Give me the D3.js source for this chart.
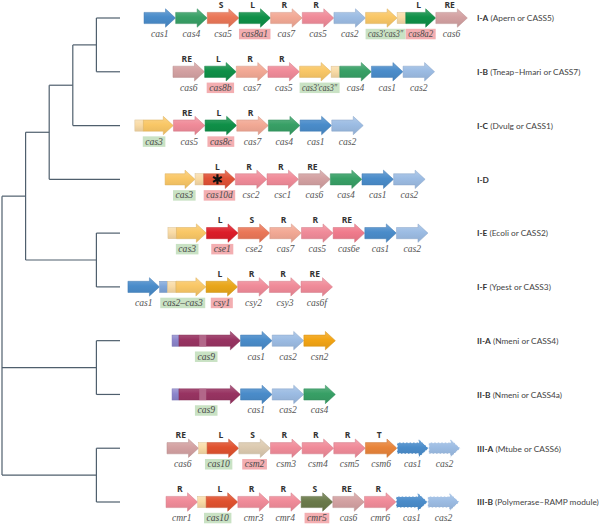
<!DOCTYPE html>
<html><head><meta charset="utf-8">
<script src="https://cdn.jsdelivr.net/npm/d3@7"></script>
<style>html,body{margin:0;padding:0;background:#fff}</style>
</head><body>
<svg id="c" width="600" height="524"></svg>
<script>
// ---------- data ----------
const rowIds = ['I-A','I-B','I-C','I-D','I-E','I-F','II-A','II-B','III-A','III-B'];
const rowNotes = ['(Apern or CASS5)','(Tneap–Hmari or CASS7)','(Dvulg or CASS1)','','(Ecoli or CASS2)','(Ypest or CASS3)','(Nmeni or CASS4)','(Nmeni or CASS4a)','(Mtube or CASS6)','(Polymerase–RAMP module)'];
// gene-unit offset where each operon starts
const rowOffsets = [0, 0.92, -0.29, 0.67, 0.76, -0.51, 0.89, 0.89, 0.73, 0.70];

const genesIA = [
  {n:'cas1',k:'cas1'},{n:'cas4',k:'cas4'},{n:'csa5',k:'csa5',top:'S'},
  {n:'cas8a1',k:'cas8',top:'L',hl:'r'},{n:'cas7',k:'cas7',top:'R'},{n:'cas5',k:'cas5',top:'R'},
  {n:'cas2',k:'cas2'},{n:'cas3′cas3″',k:'cas3',hl:'g',post:['box']},
  {n:'cas8a2',k:'cas8',top:'L',hl:'r',w:0.95},{n:'cas6',k:'cas6',top:'RE'}];
const genesIB = [
  {n:'cas6',k:'cas6',top:'RE'},{n:'cas8b',k:'cas8',top:'L',hl:'r'},{n:'cas7',k:'cas7',top:'R'},
  {n:'cas5',k:'cas5',top:'R'},{n:'cas3′cas3″',k:'cas3',hl:'g',post:['box']},
  {n:'cas4',k:'cas4'},{n:'cas1',k:'cas1'},{n:'cas2',k:'cas2'}];
const genesIC = [
  {n:'cas3',k:'cas3',hl:'g',pre:['box'],w:0.95},{n:'cas5',k:'cas5',top:'RE'},
  {n:'cas8c',k:'cas8',top:'L',hl:'r'},{n:'cas7',k:'cas7',top:'R'},
  {n:'cas4',k:'cas4'},{n:'cas1',k:'cas1'},{n:'cas2',k:'cas2'}];
const genesID = [
  {n:'cas3',k:'cas3',hl:'g',post:['box'],w:0.95},{n:'cas10d',k:'cas10d',top:'L',hl:'r',star:true},
  {n:'csc2',k:'cas5',top:'R'},{n:'csc1',k:'cas5',top:'R'},{n:'cas6',k:'cas6',top:'RE'},
  {n:'cas4',k:'cas4'},{n:'cas1',k:'cas1'},{n:'cas2',k:'cas2'}];
const genesIE = [
  {n:'cas3',k:'cas3',hl:'g',pre:['box'],w:0.95},{n:'cse1',k:'cse1',top:'L',hl:'r'},
  {n:'cse2',k:'csa5',top:'S'},{n:'cas7',k:'cas7',top:'R'},{n:'cas5',k:'cas5',top:'R'},
  {n:'cas6e',k:'cas6e',top:'RE'},{n:'cas1',k:'cas1'},{n:'cas2',k:'cas2'}];
const genesIF = [
  {n:'cas1',k:'cas1'},{n:'cas2–cas3',k:'cas3',hl:'g',pre:['cas2s','box'],w:0.95},
  {n:'csy1',k:'csy1',top:'L',hl:'r'},{n:'csy2',k:'cas5',top:'R'},{n:'csy3',k:'cas5',top:'R'},
  {n:'cas6f',k:'cas5',top:'RE'}];
const genesIIA = [
  {n:'cas9',k:'cas9',hl:'g',pre:['cas9a'],w:1.95,band:true},{n:'cas1',k:'cas1'},
  {n:'cas2',k:'cas2'},{n:'csn2',k:'csn2'}];
const genesIIB = [
  {n:'cas9',k:'cas9',hl:'g',pre:['cas9a'],w:1.95,band:true},{n:'cas1',k:'cas1'},
  {n:'cas2',k:'cas2'},{n:'cas4',k:'cas4'}];
const genesIIIA = [
  {n:'cas6',k:'cas6',top:'RE'},{n:'cas10',k:'cas10',top:'L',hl:'g',pre:['box']},
  {n:'csm2',k:'csm2',top:'S',hl:'r'},{n:'csm3',k:'cas5',top:'R'},{n:'csm4',k:'cas5',top:'R'},
  {n:'csm5',k:'cas5',top:'R'},{n:'csm6',k:'csm6',top:'T'},
  {n:'cas1',k:'cas1',dash:true},{n:'cas2',k:'cas2',dash:true}];
const genesIIIB = [
  {n:'cmr1',k:'cas5',top:'R'},{n:'cas10',k:'cas10',top:'L',hl:'g',pre:['box']},
  {n:'cmr3',k:'cas5',top:'R'},{n:'cmr4',k:'cas5',top:'R'},{n:'cmr5',k:'cmr5',top:'S',hl:'r'},
  {n:'cas6',k:'cas6',top:'RE'},{n:'cmr6',k:'cas5',top:'R'},
  {n:'cas1',k:'cas1',dash:true},{n:'cas2',k:'cas2',dash:true}];
const rowGenes = [genesIA,genesIB,genesIC,genesID,genesIE,genesIF,genesIIA,genesIIB,genesIIIA,genesIIIB];

// tree topology (leaf names = row ids)
const treeData = {children:[
  {children:[
    {children:[
      {children:[{children:[{name:'I-A'},{name:'I-B'}]},{name:'I-C'}]},
      {name:'I-D'}]},
    {children:[{name:'I-E'},{name:'I-F'}]}]},
  {children:[{name:'II-A'},{name:'II-B'}]},
  {children:[{name:'III-A'},{name:'III-B'}]}
]};

// ---------- styles ----------
const colors = {
  cas1:'#4a8cca', cas2:'#9cbce3', cas2s:'#7fa6da', cas4:'#38a066', cas3:'#f9c766', box:'#f9dba6',
  cas5:'#f08b99', cas7:'#f2a995', cas6:'#d3a1a2', cas8:'#0f9048', csa5:'#ea7758',
  cas10d:'#e05236', cse1:'#dc1d29', cas6e:'#f07b8c', csy1:'#e9a61a', cas9:'#983462',
  cas9a:'#8c86cc', csn2:'#f2a414', csm2:'#dccab0', csm6:'#e8843a', cmr5:'#6a7a4a', cas10:'#e0522f'
};
const hlColors = {g:'#c9e2c4', r:'#f3aeb1'};

const svg = d3.select('#c');
const defs = svg.append('defs');
Object.entries(colors).forEach(([k,c])=>{
  const g = defs.append('linearGradient').attr('id','g_'+k).attr('x1',0).attr('y1',0).attr('x2',0).attr('y2',1);
  g.append('stop').attr('offset','0%').attr('stop-color', d3.interpolateRgb(c,'#fff')(0.22));
  g.append('stop').attr('offset','45%').attr('stop-color', c);
  g.append('stop').attr('offset','100%').attr('stop-color', d3.interpolateRgb(c,'#000')(0.08));
});

// scales
const yRow = d3.scalePoint().domain(rowIds).range([18, 502]);
const xGene = d3.scaleLinear().domain([0,1]).range([144, 175.5]);
const BOX = 0.27, BODY = 5.6, HEAD = 9.2, HEADL = 10;

// ---------- tree ----------
const root = d3.hierarchy(treeData);
const xTree = d3.scaleLinear().domain([0, root.height]).range([120, 2]);
root.eachAfter(n => {
  n.px = xTree(n.height);
  n.py = n.children ? d3.mean(n.children, c => c.py) : yRow(n.data.name);
});
const tg = svg.append('g').attr('fill','none').attr('stroke','#4f5f6d').attr('stroke-width',1.2);
root.each(n => {
  if (!n.children) return;
  const ys = n.children.map(c => c.py);
  tg.append('line').attr('x1',n.px).attr('x2',n.px).attr('y1',d3.min(ys)).attr('y2',d3.max(ys));
  n.children.forEach(c => {
    tg.append('line').attr('x1',n.px).attr('x2',c.px).attr('y1',c.py).attr('y2',c.py);
  });
});

// ---------- genes ----------
function arrowPath(x0,x1,cy){
  const hl = Math.min(HEADL,(x1-x0)*0.45);
  return `M${x0},${cy-BODY}L${x1-hl},${cy-BODY}L${x1-hl},${cy-HEAD}L${x1},${cy}L${x1-hl},${cy+HEAD}L${x1-hl},${cy+BODY}L${x0},${cy+BODY}Z`;
}
const GF = 'Liberation Serif, serif', GS = 9.6;
const gg = svg.append('g');
rowIds.forEach((id,i) => {
  const cy = yRow(id);
  let u = rowOffsets[i];
  rowGenes[i].forEach(g => {
    const start = u;
    (g.pre||[]).forEach(k => {
      const w = k==='box' ? BOX : (k==='cas9a'?0.22:0.25);
      gg.append('rect').attr('x',xGene(u)).attr('y',cy-BODY).attr('width',xGene(u+w)-xGene(u)).attr('height',BODY*2)
        .attr('fill',`url(#g_${k})`).attr('stroke',d3.interpolateRgb(colors[k],'#000')(0.12)).attr('stroke-width',0.5);
      u += w;
    });
    const a0 = u, a1 = u + (g.w||1);
    gg.append('path').attr('d',arrowPath(xGene(a0),xGene(a1),cy))
      .attr('fill',`url(#g_${g.k})`)
      .attr('stroke', g.dash ? '#ffffff' : d3.interpolateRgb(colors[g.k],'#000')(0.12))
      .attr('stroke-width', g.dash ? 1 : 0.5)
      .attr('stroke-dasharray', g.dash ? '2,1.5' : null);
    if (g.band) {
      const bx = xGene(a0) + (xGene(a1)-xGene(a0))*0.33;
      gg.append('rect').attr('x',bx).attr('y',cy-BODY).attr('width',7).attr('height',BODY*2)
        .attr('fill', d3.interpolateRgb(colors[g.k],'#fff')(0.25));
    }
    if (g.star) {
      gg.append('path').attr('d', d3.symbol(d3.symbolAsterisk, 70)())
        .attr('transform',`translate(${(xGene(a0)+xGene(a1))/2 - 2},${cy})`)
        .attr('stroke','#111').attr('stroke-width',2.2).attr('fill','none');
    }
    u = a1;
    (g.post||[]).forEach(k => {
      gg.append('rect').attr('x',xGene(u)).attr('y',cy-BODY).attr('width',xGene(u+BOX)-xGene(u)).attr('height',BODY*2)
        .attr('fill',`url(#g_${k})`).attr('stroke',d3.interpolateRgb(colors[k],'#000')(0.12)).attr('stroke-width',0.5);
      u += BOX;
    });
    const cx = (xGene(start)+xGene(u))/2;
    // gene label
    const t = gg.append('text').attr('x',cx).attr('y',cy+19).attr('text-anchor','middle')
      .attr('font-family',GF).attr('font-style','italic').attr('font-size',GS)
      .attr('fill', g.hl ? '#4a4a4a' : '#555').text(g.n);
    let wTxt = t.node().getComputedTextLength();
    const avail = xGene(u) - xGene(start) - 5;
    if (wTxt > avail) { t.attr('textLength', avail).attr('lengthAdjust','spacingAndGlyphs'); wTxt = avail; }
    if (g.hl) {
      gg.insert('rect', () => t.node()).attr('x',cx-wTxt/2-2.5).attr('y',cy+10.8).attr('width',wTxt+5).attr('height',10.5)
        .attr('fill',hlColors[g.hl]);
    }
    if (g.top) {
      gg.append('text').attr('x',(xGene(a0)+xGene(a1))/2 - 2).attr('y',cy-9.8).attr('text-anchor','middle')
        .attr('font-family','Open Sans, sans-serif').attr('font-weight','bold').attr('font-size',8.5)
        .attr('fill','#333').text(g.top);
    }
    u += 0.005;
  });
});

// row labels, sized so the longest fits the right margin
const labels = svg.append('g').attr('font-family','Lato, sans-serif').attr('fill','#333');
const lt = rowIds.map((id,i) => {
  const t = labels.append('text').attr('x',477).attr('y',yRow(id)+3.3).attr('font-size',9);
  t.append('tspan').attr('font-weight','bold').text(id);
  if (rowNotes[i]) t.append('tspan').attr('fill','#444').text(' ' + rowNotes[i]);
  return t;
});
const maxW = d3.max(lt, t => t.node().getComputedTextLength());
const fs = Math.min(9.2, 9 * 122 / maxW);
lt.forEach(t => t.attr('font-size', fs));
</script>
</body></html>
